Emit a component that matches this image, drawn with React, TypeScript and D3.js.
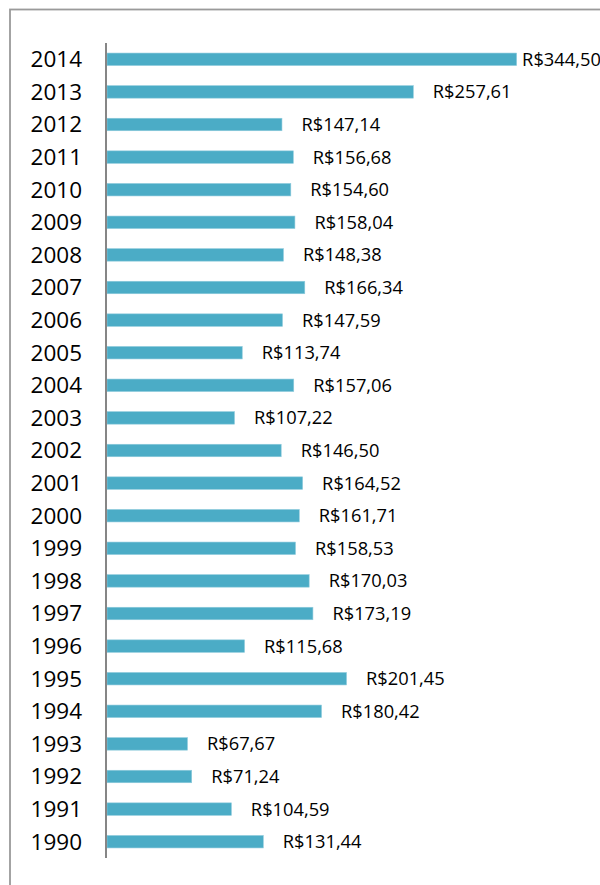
import React from "react";
import * as d3 from "d3";

const years = ["2014","2013","2012","2011","2010","2009","2008","2007","2006","2005","2004","2003","2002","2001","2000","1999","1998","1997","1996","1995","1994","1993","1992","1991","1990"];
const values = [344.50,257.61,147.14,156.68,154.60,158.04,148.38,166.34,147.59,113.74,157.06,107.22,146.50,164.52,161.71,158.53,170.03,173.19,115.68,201.45,180.42,67.67,71.24,104.59,131.44];

const W = 600, H = 885;
const axisX = 106;
const top = 43, bottom = 858;

export default function App() {
  const y = d3.scaleBand<string>().domain(years).range([top, bottom]).paddingInner(0.617).paddingOuter(0.3085);
  const x = d3.scaleLinear().domain([0, 345]).range([axisX + 1, axisX + 1 + 345 * 1.189]);
  const fmt = (v: number) => "R$" + v.toFixed(2).replace(".", ",");
  return (
    <svg width={W} height={H} style={{ position: "absolute", left: 0, top: 0 }}>
      <rect x={0} y={0} width={W} height={H} fill="#fff" />
      <rect x={10} y={9.5} width={W + 20} height={H + 20} fill="none" stroke="#9a9a9a" strokeWidth={1.8} />
      {years.map((yr, i) => {
        const yc = (y(yr) as number) + y.bandwidth() / 2;
        const end = x(values[i]);
        const lx = end + 19.5 > 520 ? end + 5.5 : end + 19.5;
        return (
          <g key={yr}>
            <rect x={x(0)} y={y(yr)} width={end - x(0)} height={y.bandwidth()} fill="#4BACC6" stroke="#8fcbdc" strokeWidth={0.6} />
            <text x={82} y={yc} dy="0.35em" textAnchor="end" fontFamily="Open Sans" fontSize={22.5} fill="#000">{yr}</text>
            <text x={lx} y={yc} dy="0.35em" fontFamily="Open Sans" fontSize={18.3} fill="#000">{fmt(values[i])}</text>
          </g>
        );
      })}
      <line x1={axisX} x2={axisX} y1={top} y2={bottom} stroke="#868686" strokeWidth={2} />
    </svg>
  );
}
